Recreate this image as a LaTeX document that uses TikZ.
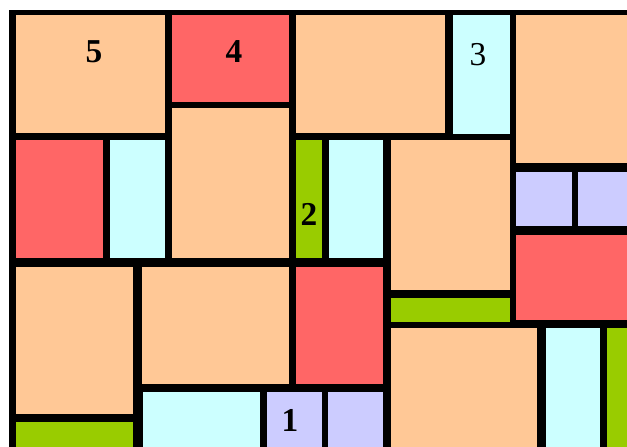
\documentclass[tikz,border=0pt]{standalone}
\usepackage{fontspec}
\setmainfont{Liberation Serif}
\usepackage{tikz}
\usetikzlibrary{positioning}
\usepackage{xcolor}
\definecolor{peach}{HTML}{FFC896}
\definecolor{salmon}{HTML}{FF6666}
\definecolor{icecyan}{HTML}{CCFFFF}
\definecolor{lime}{HTML}{99CC00}
\definecolor{lilac}{HTML}{CCCCFF}

\begin{document}
\begin{tikzpicture}[
    x=0.02cm, y=-0.02cm,
    peachCell/.style={fill=peach},
    redCell/.style={fill=salmon},
    cyanCell/.style={fill=icecyan},
    greenCell/.style={fill=lime},
    lilacCell/.style={fill=lilac},
    numLabel/.style={font=\fontsize{19}{22}\selectfont\bfseries, inner sep=0pt},
    plainLabel/.style={font=\fontsize{19}{22}\selectfont, inner sep=0pt}
]
    \useasboundingbox (0,0) rectangle (627,447);
    \fill[white] (0,0) rectangle (627,447);
    \fill[black] (9,10) rectangle (627,447);

    % top row
    \fill[peachCell] (16,15)  rectangle (165,133);
    \fill[redCell]   (172,15) rectangle (289,102);
    \fill[peachCell] (172,108) rectangle (289,258);
    \fill[peachCell] (296,15) rectangle (445,133);
    \fill[cyanCell]  (453,15) rectangle (510,134);
    \fill[peachCell] (516,15) rectangle (627,163);
    \fill[lilacCell] (516,172) rectangle (572,226);
    \fill[lilacCell] (578,172) rectangle (627,226);
    \fill[redCell]   (516,235) rectangle (627,320);

    % middle row
    \fill[redCell]   (16,140)  rectangle (103,258);
    \fill[cyanCell]  (110,140) rectangle (165,258);
    \fill[greenCell] (296,140) rectangle (322,258);
    \fill[cyanCell]  (329,140) rectangle (383,258);
    \fill[peachCell] (391,140) rectangle (510,290);
    \fill[greenCell] (391,298) rectangle (510,322);

    % bottom row
    \fill[peachCell] (16,267)  rectangle (133,414);
    \fill[greenCell] (16,422)  rectangle (133,447);
    \fill[peachCell] (142,267) rectangle (289,384);
    \fill[cyanCell]  (143,392) rectangle (260,447);
    \fill[lilacCell] (267,392) rectangle (322,447);
    \fill[lilacCell] (328,392) rectangle (383,447);
    \fill[redCell]   (296,267) rectangle (383,384);
    \fill[peachCell] (391,328) rectangle (537,447);
    \fill[cyanCell]  (546,328) rectangle (600,447);
    \fill[greenCell] (607,328) rectangle (627,447);

    \node[numLabel]   (five)  at (94,52)   {5};
    \node[numLabel]   (four)  at (234,52)  {4};
    \node[plainLabel] (three) at (478,55)  {3};
    \node[numLabel]   (two)   at (309,214) {2};
    \node[numLabel]   (one)   at (290,420) {1};
\end{tikzpicture}
\end{document}
